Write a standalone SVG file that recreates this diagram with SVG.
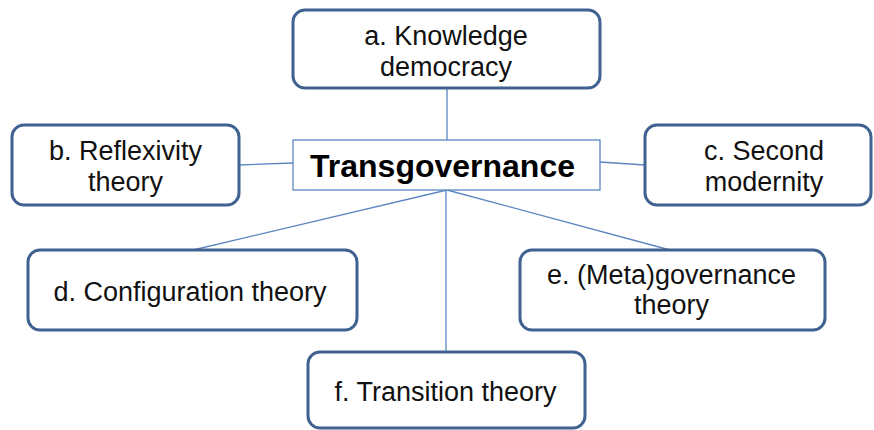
<svg xmlns="http://www.w3.org/2000/svg" width="874" height="430" viewBox="0 0 874 430">
<style>
.box{fill:#fff;stroke:#3f6291;stroke-width:3}
.t{font-family:"Liberation Sans",Arial,sans-serif;font-size:27px;fill:#111;text-anchor:middle}
.c{stroke:#5b86c0;stroke-width:1.3;fill:none}
</style>
<rect width="874" height="430" fill="#fff"/>
<g id="connectors">
<line class="c" x1="447" y1="88" x2="447" y2="140"/>
<line class="c" x1="239" y1="165" x2="293" y2="163"/>
<line class="c" x1="600" y1="162" x2="645" y2="165"/>
<line class="c" x1="447" y1="190" x2="193" y2="250"/>
<line class="c" x1="447" y1="190" x2="670" y2="250"/>
<line class="c" x1="446" y1="190" x2="446" y2="352"/>
</g>
<g id="center">
<rect x="293" y="140" width="307" height="50" fill="#fff" stroke="#5b86c0" stroke-width="1.3"/>
<text x="442.5" y="177" style="font-family:'Liberation Sans',Arial,sans-serif;font-size:32px;font-weight:bold;fill:#000;text-anchor:middle">Transgovernance</text>
</g>
<g id="a">
<rect class="box" x="293" y="10" width="307" height="78" rx="12"/>
<text class="t" x="446" y="45">a. Knowledge</text>
<text class="t" x="446" y="76">democracy</text>
</g>
<g id="b">
<rect class="box" x="12" y="125" width="227" height="80" rx="12"/>
<text class="t" x="125.5" y="160">b. Reflexivity</text>
<text class="t" x="125.5" y="191">theory</text>
</g>
<g id="c">
<rect class="box" x="645" y="125" width="226" height="80" rx="12"/>
<text class="t" x="764" y="160">c. Second</text>
<text class="t" x="764" y="191">modernity</text>
</g>
<g id="d">
<rect class="box" x="28" y="250" width="329" height="80" rx="12"/>
<text class="t" x="190" y="301">d. Configuration theory</text>
</g>
<g id="e">
<rect class="box" x="520" y="250" width="305" height="80" rx="12"/>
<text class="t" x="671.5" y="284">e. (Meta)governance</text>
<text class="t" x="671.5" y="314">theory</text>
</g>
<g id="f">
<rect class="box" x="308" y="352" width="277" height="76" rx="12"/>
<text class="t" x="445.5" y="401">f. Transition theory</text>
</g>
</svg>
